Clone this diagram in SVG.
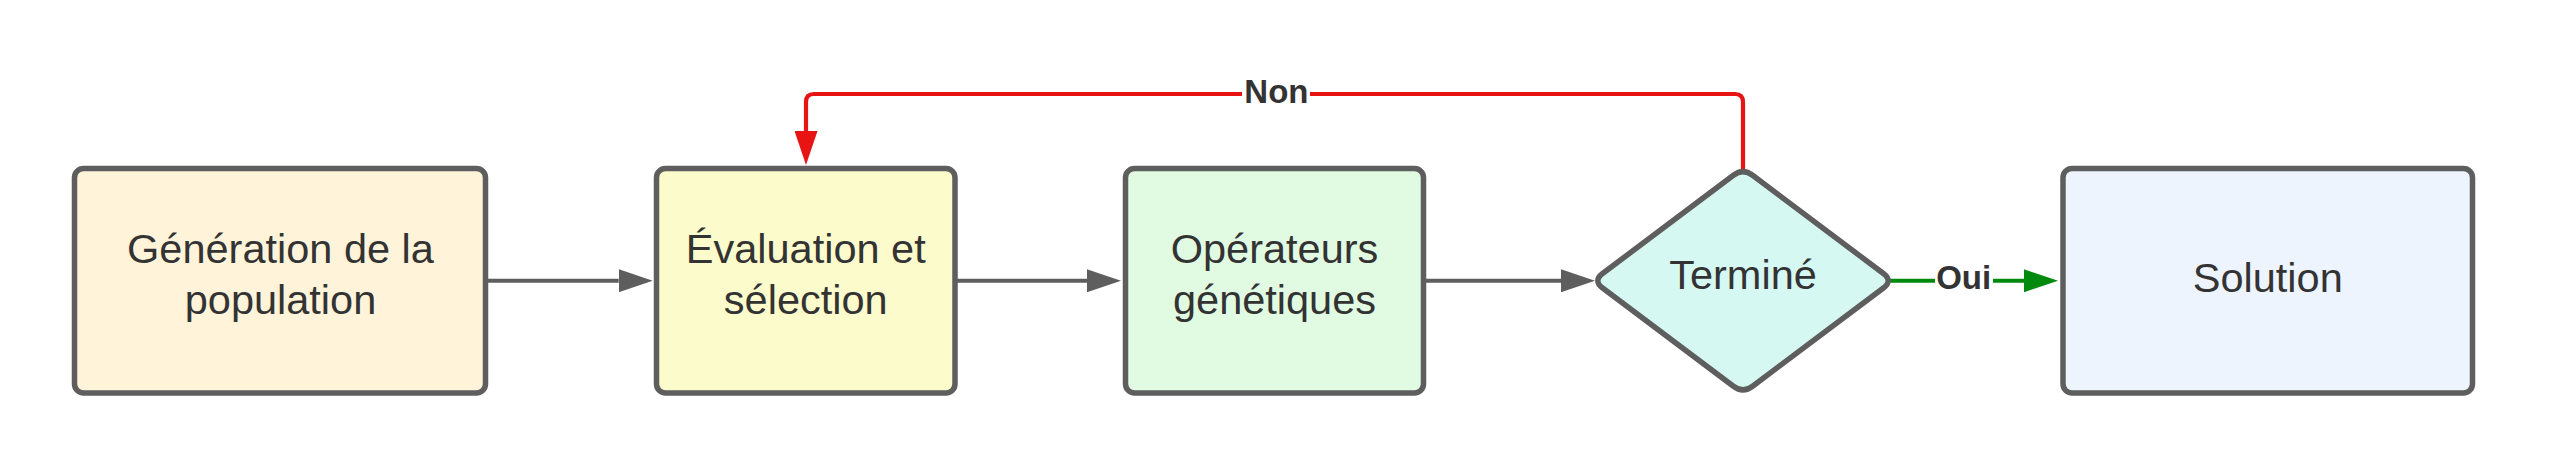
<svg xmlns="http://www.w3.org/2000/svg" width="2550" height="469" viewBox="0 0 2550 469">
  <style>
    .node { stroke: #5E5E5E; stroke-width: 5.5; }
    .lbl { font-family: "Liberation Sans", Arial, sans-serif; font-size: 41.5px; fill: #333333; text-anchor: middle; }
    .elbl { font-family: "Liberation Sans", Arial, sans-serif; font-size: 33px; font-weight: bold; fill: #333333; text-anchor: middle; }
    .edge { fill: none; stroke-width: 4.2; }
    .gray { stroke: #5E5E5E; }
    .red { stroke: #E81313; }
    .green { stroke: #028A0F; }
  </style>
  <defs>
    <marker id="ahGray" markerUnits="userSpaceOnUse" markerWidth="34" markerHeight="23" refX="0" refY="11.5" orient="auto" viewBox="0 0 34 23">
      <path d="M0,0 L34,11.5 L0,23 z" fill="#5E5E5E"/>
    </marker>
    <marker id="ahRed" markerUnits="userSpaceOnUse" markerWidth="34" markerHeight="23" refX="0" refY="11.5" orient="auto" viewBox="0 0 34 23">
      <path d="M0,0 L34,11.5 L0,23 z" fill="#E81313"/>
    </marker>
    <marker id="ahGreen" markerUnits="userSpaceOnUse" markerWidth="34" markerHeight="23" refX="0" refY="11.5" orient="auto" viewBox="0 0 34 23">
      <path d="M0,0 L34,11.5 L0,23 z" fill="#028A0F"/>
    </marker>
  </defs>
  <rect width="2550" height="469" fill="#FFFFFF"/>

  <g id="connectors">
    <path class="edge gray" d="M486,280.75 L618.7,280.75" marker-end="url(#ahGray)"/>
    <path class="edge gray" d="M956,280.75 L1087,280.75" marker-end="url(#ahGray)"/>
    <path class="edge gray" d="M1425,280.75 L1561,280.75" marker-end="url(#ahGray)"/>
    <path class="edge green" d="M1890,280.75 L2024,280.75" marker-end="url(#ahGreen)"/>
    <path class="edge red" d="M1743,172 L1743,102 Q1743,94 1735,94 L814,94 Q806,94 806,102 L806,131" marker-end="url(#ahRed)"/>
    <g id="label-non">
      <rect x="1242" y="77" width="68" height="32" fill="#FFFFFF"/>
      <text class="elbl" x="1276.4" y="102.5">Non</text>
    </g>
    <g id="label-oui">
      <rect x="1935" y="262" width="58" height="32" fill="#FFFFFF"/>
      <text class="elbl" x="1963.7" y="288.5">Oui</text>
    </g>
  </g>

  <g id="node-generation">
    <rect class="node" x="74.5" y="168.5" width="411" height="224.5" rx="9" fill="#FFF3DA"/>
    <text class="lbl" x="280.5" y="262.5">Génération de la</text>
    <text class="lbl" x="280.5" y="313.5">population</text>
  </g>

  <g id="node-evaluation">
    <rect class="node" x="656.5" y="168.5" width="298.5" height="224.5" rx="9" fill="#FCFBCB"/>
    <text class="lbl" x="805.75" y="262.5">Évaluation et</text>
    <text class="lbl" x="805.75" y="313.5">sélection</text>
  </g>

  <g id="node-operateurs">
    <rect class="node" x="1125.5" y="168.5" width="298" height="224.5" rx="9" fill="#E1FAE2"/>
    <text class="lbl" x="1274.5" y="262.5">Opérateurs</text>
    <text class="lbl" x="1274.5" y="313.5">génétiques</text>
  </g>

  <g id="node-termine">
    <path class="node" fill="#D6F8F3" d="M1733.4,175.3 Q1743,168 1752.6,175.3 L1883.4,273.5 Q1893,280.75 1883.4,288 L1752.6,386.2 Q1743,393.5 1733.4,386.2 L1602.6,288 Q1593,280.75 1602.6,273.5 Z"/>
    <text class="lbl" x="1743" y="288.5">Terminé</text>
  </g>

  <g id="node-solution">
    <rect class="node" x="2063" y="168.5" width="409.5" height="224.5" rx="9" fill="#EDF4FE"/>
    <text class="lbl" x="2267.75" y="292">Solution</text>
  </g>
</svg>
